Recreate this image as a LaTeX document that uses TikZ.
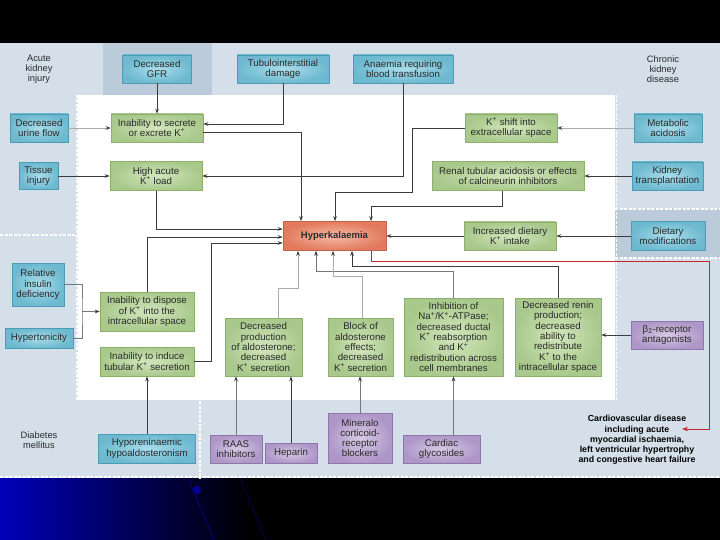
\documentclass[tikz,border=0pt]{standalone}
\usepackage{fontspec}
\setmainfont{Liberation Sans}
\usetikzlibrary{arrows.meta,calc}
\definecolor{bgl}{HTML}{D5DFE9}
\definecolor{bgd}{HTML}{BCCBDA}
\definecolor{txt}{HTML}{2A2A2A}
\definecolor{bluein}{HTML}{A9DCEA}
\definecolor{blueout}{HTML}{6DB9CF}
\definecolor{bluebd}{HTML}{4E9BB5}
\definecolor{greenin}{HTML}{D2E6BC}
\definecolor{greenout}{HTML}{A9C98C}
\definecolor{greenbd}{HTML}{8CAF6C}
\definecolor{purin}{HTML}{D6C8E3}
\definecolor{purout}{HTML}{AE97C8}
\definecolor{purbd}{HTML}{8F77AA}
\definecolor{redin}{HTML}{F6B9A4}
\definecolor{redout}{HTML}{E27B5E}
\definecolor{redbd}{HTML}{C2634A}
\definecolor{redline}{HTML}{C4262E}
\definecolor{ldark}{HTML}{3C3C3C}
\definecolor{lmid}{HTML}{777777}
\definecolor{llight}{HTML}{ABABAB}
\begin{document}
\begin{tikzpicture}[x=1pt,y=-1pt,
  box/.style={draw, line width=0.6pt, align=center, inner sep=1pt, text=txt,
    font=\fontsize{9.7}{10.3}\selectfont},
  bluebox/.style={box, draw=bluebd, inner color=bluein, outer color=blueout},
  greenbox/.style={box, draw=greenbd, inner color=greenin, outer color=greenout},
  purbox/.style={box, draw=purbd, inner color=purin, outer color=purout},
  redbox/.style={box, draw=redbd, inner color=redin, outer color=redout},
  lbl/.style={align=center, text=txt, font=\fontsize{9.3}{10}\selectfont},
  arr/.style={draw=ldark, line width=0.7pt, -{Stealth[length=5pt,width=3.6pt,color=ldark]}},
  arrm/.style={draw=lmid, line width=0.7pt, -{Stealth[length=5pt,width=3.6pt,color=ldark]}},
  arrl/.style={draw=llight, line width=0.7pt, -{Stealth[length=5pt,width=3.6pt,color=ldark]}},
  linem/.style={draw=lmid, line width=0.7pt},
  redarr/.style={draw=redline, line width=0.9pt, -{Stealth[length=6pt,width=4.5pt]}},
  sep/.style={draw=white, line width=1.4pt, dash pattern=on 3pt off 1.5pt}
]
\useasboundingbox (0,0) rectangle (720,540);
% slide background
\fill[black] (0,0) rectangle (720,43);
\fill[black] (0,478) rectangle (720,540);
\shade[left color={rgb,255:red,0;green,0;blue,185}, right color=black] (0,478) rectangle (250,540);
\draw[blue!55!black, line width=1pt, opacity=0.7] (188,478) -- (214,540);
\draw[blue!45!black, line width=1pt, opacity=0.6] (240,478) -- (266,540);
\fill[blue!60!black] (197,490) circle (4);
% diagram background
\fill[bgl] (0,43) rectangle (720,478);
\fill[bgd] (103,43) rectangle (212,95);
\fill[bgd] (615,209) rectangle (720,258);
\fill[white] (78,95) rectangle (615,400);
\draw[sep] (76.8,95) -- (76.8,400);
\draw[sep] (616.2,95) -- (616.2,400);
\draw[sep] (0,235) -- (77,235);
\draw[sep] (200,401) -- (200,478);
\draw[sep] (615,209) -- (720,209);
\draw[sep] (615,258) -- (720,258);
\draw[sep] (0,477) -- (720,477);

% labels
\node[lbl] (aki) at (39,69) {Acute\\kidney\\injury};
\node[lbl] (ckd) at (663,69) {Chronic\\kidney\\disease};
\node[lbl] (dm) at (39,440) {Diabetes\\mellitus};
\node[align=center, text=black, font=\bfseries\fontsize{8.8}{10.2}\selectfont] (cvd) at (637,440)
  {Cardiovascular disease\\including acute\\myocardial ischaemia,\\left ventricular hypertrophy\\and congestive heart failure};
\coordinate (cvdin) at (682,429);

% blue nodes
\node[bluebox, minimum width=69, minimum height=28] (gfr) at (157,69) {Decreased\\GFR};
\node[bluebox, minimum width=92, minimum height=28] (tubulo) at (283,69) {Tubulointerstitial\\damage};
\node[bluebox, minimum width=100, minimum height=28] (anaemia) at (403,69) {Anaemia requiring\\blood transfusion};
\node[bluebox, minimum width=58, minimum height=28] (urine) at (39,128) {Decreased\\urine flow};
\node[bluebox, minimum width=39, minimum height=27] (tissue) at (38.5,176) {Tissue\\injury};
\node[bluebox, minimum width=68, minimum height=28] (metab) at (668,128) {Metabolic\\acidosis};
\node[bluebox, minimum width=71, minimum height=28] (kidtx) at (667.5,176) {Kidney\\transplantation};
\node[bluebox, minimum width=74, minimum height=29] (dietmod) at (668,236) {Dietary\\modifications};
\node[bluebox, minimum width=52, minimum height=43] (insulin) at (38,284.5) {Relative\\insulin\\deficiency};
\node[bluebox, minimum width=68, minimum height=20] (hyperton) at (39,338) {Hypertonicity};
\node[bluebox, minimum width=97, minimum height=29] (hyporen) at (147,448.5) {Hyporeninaemic\\hypoaldosteronism};

% purple nodes
\node[purbox, minimum width=52, minimum height=28] (raas) at (236,449) {RAAS\\inhibitors};
\node[purbox, minimum width=52, minimum height=20] (heparin) at (291,453) {Heparin};
\node[purbox, minimum width=64, minimum height=50] (mrb) at (360,438) {Mineralo\\corticoid-\\receptor\\blockers};
\node[purbox, minimum width=77, minimum height=28] (cardiac) at (441.5,449) {Cardiac\\glycosides};
\node[purbox, minimum width=72, minimum height=28] (beta) at (667,335) {β\textsubscript{2}-receptor\\antagonists};

% green nodes
\node[greenbox, minimum width=92, minimum height=28] (secrete) at (157,128) {Inability to secrete\\or excrete K\textsuperscript{+}};
\node[greenbox, minimum width=92, minimum height=29] (hi) at (156,176) {High acute\\K\textsuperscript{+} load};
\node[greenbox, minimum width=92, minimum height=28] (kshift) at (511,128) {K\textsuperscript{+} shift into\\extracellular space};
\node[greenbox, minimum width=152, minimum height=29] (renal) at (508,176) {Renal tubular acidosis or effects\\of calcineurin inhibitors};
\node[greenbox, minimum width=92, minimum height=28] (diet) at (510,236) {Increased dietary\\K\textsuperscript{+} intake};
\node[greenbox, minimum width=94, minimum height=39] (dispose) at (147,311.5) {Inability to dispose\\of K\textsuperscript{+} into the\\intracellular space};
\node[greenbox, minimum width=94, minimum height=29] (induce) at (147,361.5) {Inability to induce\\tubular K\textsuperscript{+} secretion};
\node[greenbox, minimum width=77, minimum height=58] (prod) at (263.5,347) {Decreased\\production\\of aldosterone;\\decreased\\K\textsuperscript{+} secretion};
\node[greenbox, minimum width=65, minimum height=58] (block) at (360.5,347) {Block of\\aldosterone\\effects;\\decreased\\K\textsuperscript{+} secretion};
\node[greenbox, minimum width=99, minimum height=78] (inhib) at (453.5,337) {Inhibition of\\Na\textsuperscript{+}/K\textsuperscript{+}-ATPase;\\decreased ductal\\K\textsuperscript{+} reabsorption\\and K\textsuperscript{+}\\redistribution across\\cell membranes};
\node[greenbox, minimum width=86, minimum height=78] (renin) at (558,337) {Decreased renin\\production;\\decreased\\ability to\\redistribute\\K\textsuperscript{+} to the\\intracellular space};

% central node
\node[redbox, minimum width=103, minimum height=29, font=\bfseries\fontsize{9.5}{10.3}\selectfont] (hyper) at (334.5,236) {Hyperkalaemia};

% connectors: top / left
\draw[arr] (gfr) -- (secrete);
\draw[arrl] (urine) -- (secrete);
\draw[arr] (tubulo.south) |- ([yshift=4pt]secrete.east);
\draw[arr] ([yshift=-4pt]secrete.east) -| ([xshift=-33.5pt]hyper.north);
\draw[arr] (tissue) -- (hi);
\draw[arr] (anaemia.south) |- (hi.east);
\draw[arr] (hi.south) |- ([yshift=7pt]hyper.west);
\draw[arr] (dispose.north) |- ([yshift=-1pt]hyper.west);
\draw[arr] (induce.east) -- ++(17,0) |- ([yshift=-7pt]hyper.west);
\coordinate (jn) at (82,311.5);
\draw[linem] (insulin.east) -| (jn) |- (hyperton.east);
\draw[arrm] (jn) -- (dispose.west);
\draw[arr] (hyporen) -- (induce);

% connectors: right
\draw[arrl] (metab) -- (kshift);
\draw[arr] (kidtx) -- (renal);
\draw[arr] (dietmod) -- (diet);
\draw[arr] (diet) -- (hyper);
\draw[arr] (kshift.west) -- ++(-52,0) -- ++(0,64) -| ([xshift=0.5pt]hyper.north);
\draw[arr] ([xshift=-6pt]renal.south) -- ++(0,16) -| ([xshift=36.5pt]hyper.north);
\draw[arr] (beta.west) -- (beta.west -| renin.east);

% connectors: bottom
\draw[arrl] ([xshift=14.5pt]prod.north) -- ++(0,-29) -| ([xshift=-36.5pt]hyper.south);
\draw[arrm] (inhib.north) -- ++(0,-26) -| ([xshift=-18.5pt]hyper.south);
\draw[arrl] ([xshift=1.5pt]block.north) -- ++(0,-41) -| ([xshift=-1.5pt]hyper.south);
\draw[arr] (renin.north) -- ++(0,-31) -| ([xshift=17.5pt]hyper.south);
\draw[arrm] (raas.north) -- (raas.north |- prod.south);
\draw[arr] (heparin.north) -- (heparin.north |- prod.south);
\draw[arrm] (mrb.north) -- (mrb.north |- block.south);
\draw[arrm] (cardiac.north -| inhib.south) -- (inhib.south);

% red connector
\draw[redarr] ([xshift=36.5pt]hyper.south) |- (709,261) |- (cvdin);
\end{tikzpicture}
\end{document}
